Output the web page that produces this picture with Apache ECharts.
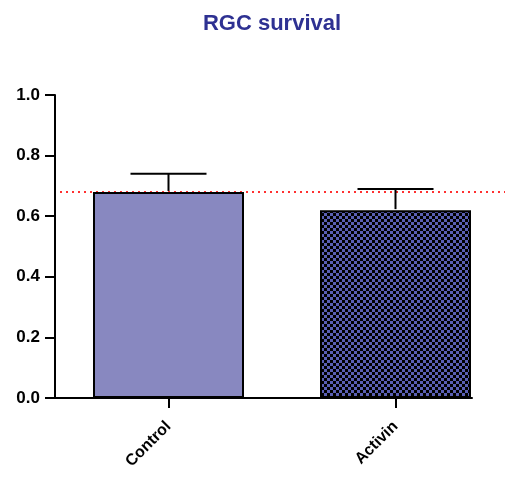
<!DOCTYPE html>
<html>
<head>
<meta charset="utf-8">
<script src="https://cdn.jsdelivr.net/npm/echarts@6/dist/echarts.min.js"></script>
<style>html,body{margin:0;padding:0;background:#fff}#c{width:505px;height:481px}</style>
</head>
<body>
<div id="c"></div>
<script>
var categories = ['Control', 'Activin'];
var means = [0.68, 0.62];
var upperErr = [0.74, 0.69];
var refLine = 0.68;
var yTicks = [0, 0.2, 0.4, 0.6, 0.8, 1.0];

var pc = document.createElement('canvas');
pc.width = 6; pc.height = 6;
var g = pc.getContext('2d');
g.fillStyle = '#5a5fb4'; g.fillRect(0, 0, 6, 6);
g.fillStyle = '#000000'; g.fillRect(0, 0, 3, 3); g.fillRect(3, 3, 3, 3);

var positions = categories.map(function (c, i) { return i + 0.5; });
var barData = means.map(function (v, i) {
  var item = { value: [positions[i], v] };
  if (i === 1) item.itemStyle = { color: { image: pc, repeat: 'repeat' } };
  return item;
});
var errData = means.map(function (v, i) { return [positions[i], v, upperErr[i]]; });

var chart = echarts.init(document.getElementById('c'));
chart.setOption({
  animation: false,
  title: {
    text: 'RGC survival', left: 267, top: 8, textAlign: 'center',
    textStyle: { fontFamily: 'Liberation Sans', fontWeight: 'bold', fontSize: 22, color: '#2e3192' }
  },
  grid: { left: 55, right: 33, top: 95, bottom: 83 },
  xAxis: {
    type: 'value', min: 0, max: 417 / 227,
    splitLine: { show: false },
    axisLine: { show: true, onZero: false, lineStyle: { color: '#000', width: 2 } },
    axisTick: { show: true, customValues: positions, length: 10, lineStyle: { color: '#000', width: 2 } },
    axisLabel: {
      customValues: positions, rotate: 45, margin: 26,
      formatter: function (v) { var i = Math.round(v - 0.5); return categories[i] || ''; },
      fontFamily: 'Liberation Sans', fontWeight: 'bold', fontSize: 16, color: '#000'
    }
  },
  yAxis: {
    type: 'value', min: 0, max: 1, interval: 0.2,
    splitLine: { show: false },
    axisLine: { show: true, lineStyle: { color: '#000', width: 2 } },
    axisTick: { show: true, length: 10, lineStyle: { color: '#000', width: 2 } },
    axisLabel: {
      margin: 15, formatter: function (v) { return v.toFixed(1); },
      fontFamily: 'Liberation Sans', fontWeight: 'bold', fontSize: 17, color: '#000'
    }
  },
  series: [
    {
      type: 'bar', data: barData, barWidth: 151,
      itemStyle: { color: '#8888c0', borderColor: '#000', borderWidth: 2 },
      z: 2
    },
    {
      type: 'custom', data: errData, z: 3,
      renderItem: function (params, api) {
        var x = api.value(0);
        var top = api.coord([x, api.value(2)]);
        var base = api.coord([x, api.value(1)]);
        var half = 38;
        return {
          type: 'group',
          children: [
            { type: 'line', shape: { x1: top[0], y1: top[1], x2: base[0], y2: base[1] - 1 }, style: { stroke: '#000', lineWidth: 2 } },
            { type: 'line', shape: { x1: top[0] - half, y1: top[1], x2: top[0] + half, y2: top[1] }, style: { stroke: '#000', lineWidth: 2 } }
          ]
        };
      }
    },
    {
      type: 'custom', data: [[0, refLine]], z: 1, clip: false,
      renderItem: function (params, api) {
        var p = api.coord([0, api.value(1)]);
        return {
          type: 'line',
          shape: { x1: p[0] + 5, y1: p[1], x2: api.getWidth(), y2: p[1] },
          style: { stroke: '#ff3030', lineWidth: 2, lineDash: [2, 4] }
        };
      }
    }
  ]
});
</script>
</body>
</html>
